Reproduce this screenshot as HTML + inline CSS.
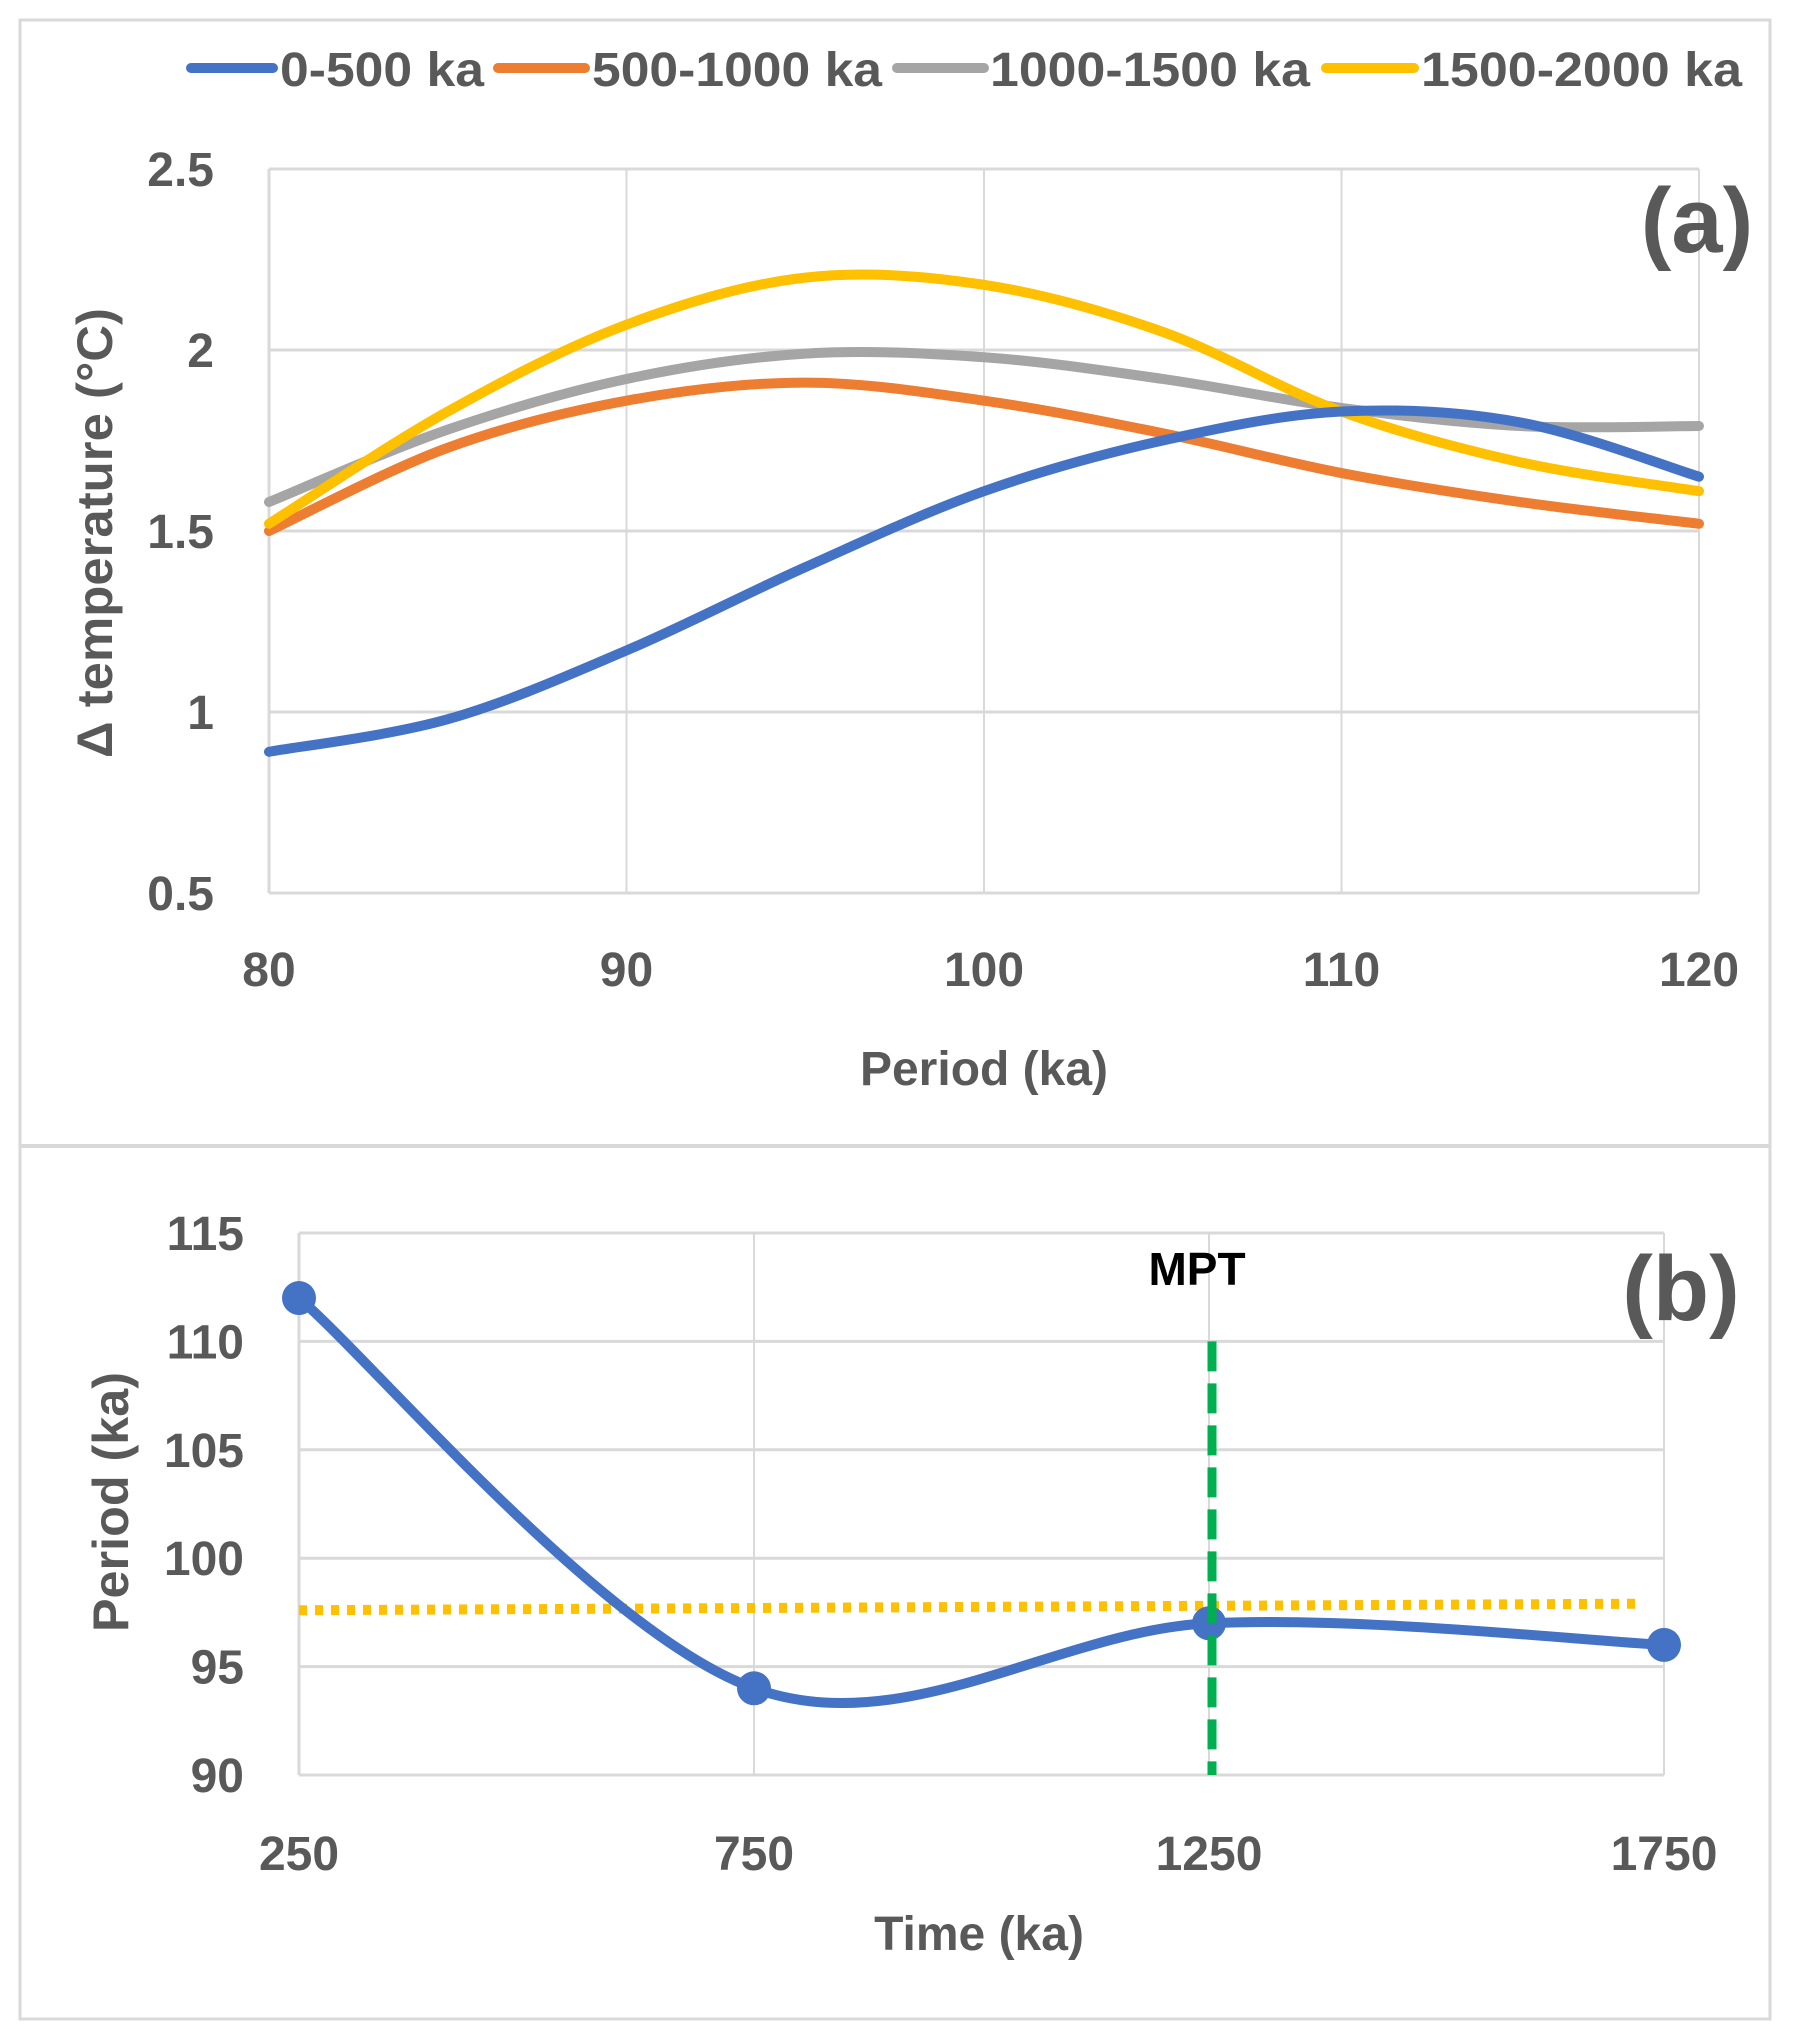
<!DOCTYPE html>
<html><head><meta charset="utf-8"><style>
html,body{margin:0;padding:0;background:#fff;}
svg{display:block;font-family:"Liberation Sans",sans-serif;}
</style></head><body>
<svg id="fig" width="1793" height="2040" viewBox="0 0 1793 2040" xmlns="http://www.w3.org/2000/svg">
<rect x="20" y="20" width="1750" height="1999" fill="#fff" stroke="#d9d9d9" stroke-width="3"/>
<line x1="20" y1="1146" x2="1770" y2="1146" stroke="#d9d9d9" stroke-width="4"/>
<g id="pa"></g>
<g id="pb"></g>
</svg>
<script>
// Panel (a) data
const aX = [80,85,90,95,100,105,110,115,120];
const aBlue = [0.89,0.98,1.17,1.40,1.61,1.75,1.83,1.80,1.65];
const aOrange = [1.50,1.73,1.86,1.91,1.86,1.77,1.66,1.58,1.52];
const aGray = [1.58,1.78,1.92,1.99,1.98,1.92,1.84,1.79,1.79];
const aYellow = [1.52,1.83,2.07,2.20,2.18,2.05,1.83,1.69,1.61];
const aXTicks = [80,90,100,110,120];
const aYTicks = [0.5,1,1.5,2,2.5];
const aYLabels = ["0.5","1","1.5","2","2.5"];
const aNames = ["0-500 ka","500-1000 ka","1000-1500 ka","1500-2000 ka"];
// Panel (b) data
const bX = [250,750,1250,1750];
const bY = [112,94,97,96];
const bXTicks = [250,750,1250,1750];
const bYTicks = [90,95,100,105,110,115];
const bMean = [97.6,97.9];
const bMPT = 1250;

const NS="http://www.w3.org/2000/svg";
function mk(p,tag,attrs){const e=document.createElementNS(NS,tag);for(const k in attrs)e.setAttribute(k,attrs[k]);p.appendChild(e);return e;}
function smooth(pts){let d=`M${pts[0][0]},${pts[0][1]}`;for(let i=0;i<pts.length-1;i++){const p0=pts[Math.max(0,i-1)],p1=pts[i],p2=pts[i+1],p3=pts[Math.min(pts.length-1,i+2)];const t=1/6;d+=` C${p1[0]+(p2[0]-p0[0])*t},${p1[1]+(p2[1]-p0[1])*t} ${p2[0]-(p3[0]-p1[0])*t},${p2[1]-(p3[1]-p1[1])*t} ${p2[0]},${p2[1]}`;}return d;}
const grid="#d9d9d9", lab="#595959";
const TF=48;

// ---- Panel A
const pa=document.getElementById('pa');
const ax=v=>269+(v-80)/40*(1699-269);
const ay=v=>893-(v-0.5)/2*(893-169);
aYTicks.forEach((t,i)=>{
  const l=mk(pa,'line',{x1:269,x2:1699,y1:ay(t),y2:ay(t),stroke:grid,'stroke-width':3});
  
  
  const tx=mk(pa,'text',{x:214,y:ay(t)+17,'text-anchor':'end','font-size':TF,'font-weight':'bold',fill:lab});
  tx.textContent=aYLabels[i];
  
  
});
aXTicks.forEach(t=>{
  const l=mk(pa,'line',{x1:ax(t),x2:ax(t),y1:169,y2:893,stroke:grid,'stroke-width':2});
  
  
  const tx=mk(pa,'text',{x:ax(t),y:986,'text-anchor':'middle','font-size':TF,'font-weight':'bold',fill:lab});
  tx.textContent=t;
  
  
});
mk(pa,'line',{x1:269,x2:269,y1:169,y2:893,stroke:grid,'stroke-width':3});
const series=[[aBlue,'#4472c4'],[aOrange,'#ed7d31'],[aGray,'#a5a5a5'],[aYellow,'#ffc000']];
const drawOrder=[2,1,3,0];
drawOrder.forEach(i=>{
  const [vals,c]=series[i];
  const p=mk(pa,'path',{d:smooth(aX.map((x,j)=>[ax(x),ay(vals[j])])),fill:'none',stroke:c,'stroke-width':10,'stroke-linecap':'round'});
  
  
});
const legX=[[191,273,280,204],[498,585,592,290],[897,984,990,320],[1326,1414,1421,321]];
series.forEach((s,i)=>{
  const l=mk(pa,'line',{x1:legX[i][0],x2:legX[i][1],y1:68,y2:68,stroke:s[1],'stroke-width':10,'stroke-linecap':'round'});
  
  
  const t=mk(pa,'text',{x:legX[i][2],y:86,'font-size':48,'font-weight':'bold',fill:lab,textLength:legX[i][3],lengthAdjust:'spacingAndGlyphs'});
  t.textContent=aNames[i];
  
  
});
let t=mk(pa,'text',{x:1697,y:252,'text-anchor':'middle','font-size':92,'font-weight':'bold',fill:lab});
t.textContent='(a)';


t=mk(pa,'text',{x:984,y:1085,'text-anchor':'middle','font-size':48,'font-weight':'bold',fill:lab});
t.textContent='Period (ka)';


t=mk(pa,'text',{x:0,y:0,'text-anchor':'middle','font-size':50,'font-weight':'bold',fill:lab,transform:'translate(112,533) rotate(-90)',textLength:450,lengthAdjust:'spacingAndGlyphs'});
t.textContent='Δ temperature (°C)';



// ---- Panel B
const pb=document.getElementById('pb');
const bx=v=>299+(v-250)/1500*(1664-299);
const by=v=>1775-(v-90)/25*(1775-1233);
bYTicks.forEach(v=>{
  const l=mk(pb,'line',{x1:299,x2:1664,y1:by(v),y2:by(v),stroke:grid,'stroke-width':3});
  
  
  const tx=mk(pb,'text',{x:244,y:by(v)+17,'text-anchor':'end','font-size':TF,'font-weight':'bold',fill:lab});
  tx.textContent=v;
  
  
});
bXTicks.forEach(v=>{
  const l=mk(pb,'line',{x1:bx(v),x2:bx(v),y1:1233,y2:1775,stroke:grid,'stroke-width':2});
  
  
  const tx=mk(pb,'text',{x:bx(v),y:1870,'text-anchor':'middle','font-size':TF,'font-weight':'bold',fill:lab});
  tx.textContent=v;
  
  
});
mk(pb,'line',{x1:299,x2:299,y1:1233,y2:1775,stroke:grid,'stroke-width':3});
let m=mk(pb,'line',{x1:bx(250),x2:bx(1720),y1:by(bMean[0]),y2:by(bMean[1]),stroke:'#ffc000','stroke-width':10,'stroke-dasharray':'8 8'});


let bp=mk(pb,'path',{d:smooth(bX.map((x,j)=>[bx(x),by(bY[j])])),fill:'none',stroke:'#4472c4','stroke-width':10,'stroke-linecap':'round'});


bX.forEach((x,j)=>{
  const c=mk(pb,'circle',{cx:bx(x),cy:by(bY[j]),r:17,fill:'#4472c4'});
  
  
});
m=mk(pb,'line',{x1:bx(bMPT)+3,x2:bx(bMPT)+3,y1:by(110),y2:1775,stroke:'#00b050','stroke-width':9,'stroke-dasharray':'30 12'});


t=mk(pb,'text',{x:1197,y:1285,'text-anchor':'middle','font-size':46,'font-weight':'bold',fill:'#000'});
t.textContent='MPT';


t=mk(pb,'text',{x:1681,y:1320,'text-anchor':'middle','font-size':92,'font-weight':'bold',fill:lab});
t.textContent='(b)';


t=mk(pb,'text',{x:979,y:1950,'text-anchor':'middle','font-size':48,'font-weight':'bold',fill:lab});
t.textContent='Time (ka)';


t=mk(pb,'text',{x:0,y:0,'text-anchor':'middle','font-size':50,'font-weight':'bold',fill:lab,transform:'translate(128,1502) rotate(-90)',textLength:260,lengthAdjust:'spacingAndGlyphs'});
t.textContent='Period (ka)';


</script>
</body></html>
